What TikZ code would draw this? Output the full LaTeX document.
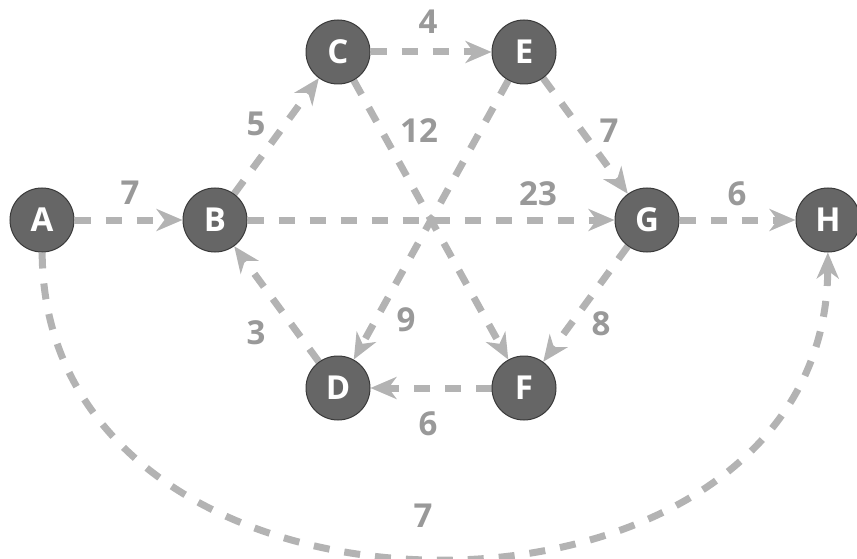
\documentclass[tikz,border=0pt]{standalone}
\usepackage{fontspec}
\setmainfont{Open Sans}
\usetikzlibrary{arrows.meta,backgrounds}
\definecolor{nodefill}{HTML}{666666}
\definecolor{nodeline}{HTML}{3A3A3A}
\definecolor{edgecol}{HTML}{B3B3B3}
\definecolor{labelcol}{HTML}{999999}
\tikzset{
  vertex/.style={circle, fill=nodefill, draw=nodeline, line width=1pt,
    minimum size=64pt, inner sep=0pt, text=white,
    font=\fontsize{33}{33}\selectfont\bfseries},
  link/.style={draw=edgecol, line width=7pt, dash pattern=on 16pt off 15pt,
    -{Stealth[length=26pt,width=22pt,inset=8pt]}},
  weight/.style={text=labelcol, font=\fontsize{33}{33}\selectfont\bfseries, inner sep=0pt}
}
\begin{document}
\begin{tikzpicture}[x=1pt,y=-1pt]
\useasboundingbox (0,0) rectangle (857,559);
% vertices
\node[vertex] (A) at (42,220) {A};
\node[vertex] (B) at (215,220) {B};
\node[vertex] (C) at (338,52) {C};
\node[vertex] (E) at (524,52) {E};
\node[vertex] (G) at (647,220) {G};
\node[vertex] (H) at (828,220) {H};
\node[vertex] (D) at (338,388) {D};
\node[vertex] (F) at (524,388) {F};
% directed connectors, kept behind the vertices
\begin{scope}[on background layer]
\path[link] (A) -- (B);
\path[link] (B) -- (C);
\path[link] (C) -- (E);
\path[link] (C) -- (F);
\path[link] (E) -- (D);
\path[link] (E) -- (G);
\path[link] (B) -- (G);
\path[link] (G) -- (H);
\path[link] (G) -- (F);
\path[link] (D) -- (B);
\path[link] (F) -- (D);
\path[link] (A) .. controls (44,660) and (826,660) .. (H);
\end{scope}
% weights
\node[weight] (wAB) at (130,193) {7};
\node[weight] (wBC) at (256,124) {5};
\node[weight] (wCE) at (428,22) {4};
\node[weight] (wCF) at (419,131) {12};
\node[weight] (wEG) at (609,131) {7};
\node[weight] (wBG) at (538,194) {23};
\node[weight] (wGH) at (737,194) {6};
\node[weight] (wED) at (406,320) {9};
\node[weight] (wDB) at (256,333) {3};
\node[weight] (wGF) at (601,324) {8};
\node[weight] (wFD) at (428,424) {6};
\node[weight] (wAH) at (423,516) {7};
\end{tikzpicture}
\end{document}
